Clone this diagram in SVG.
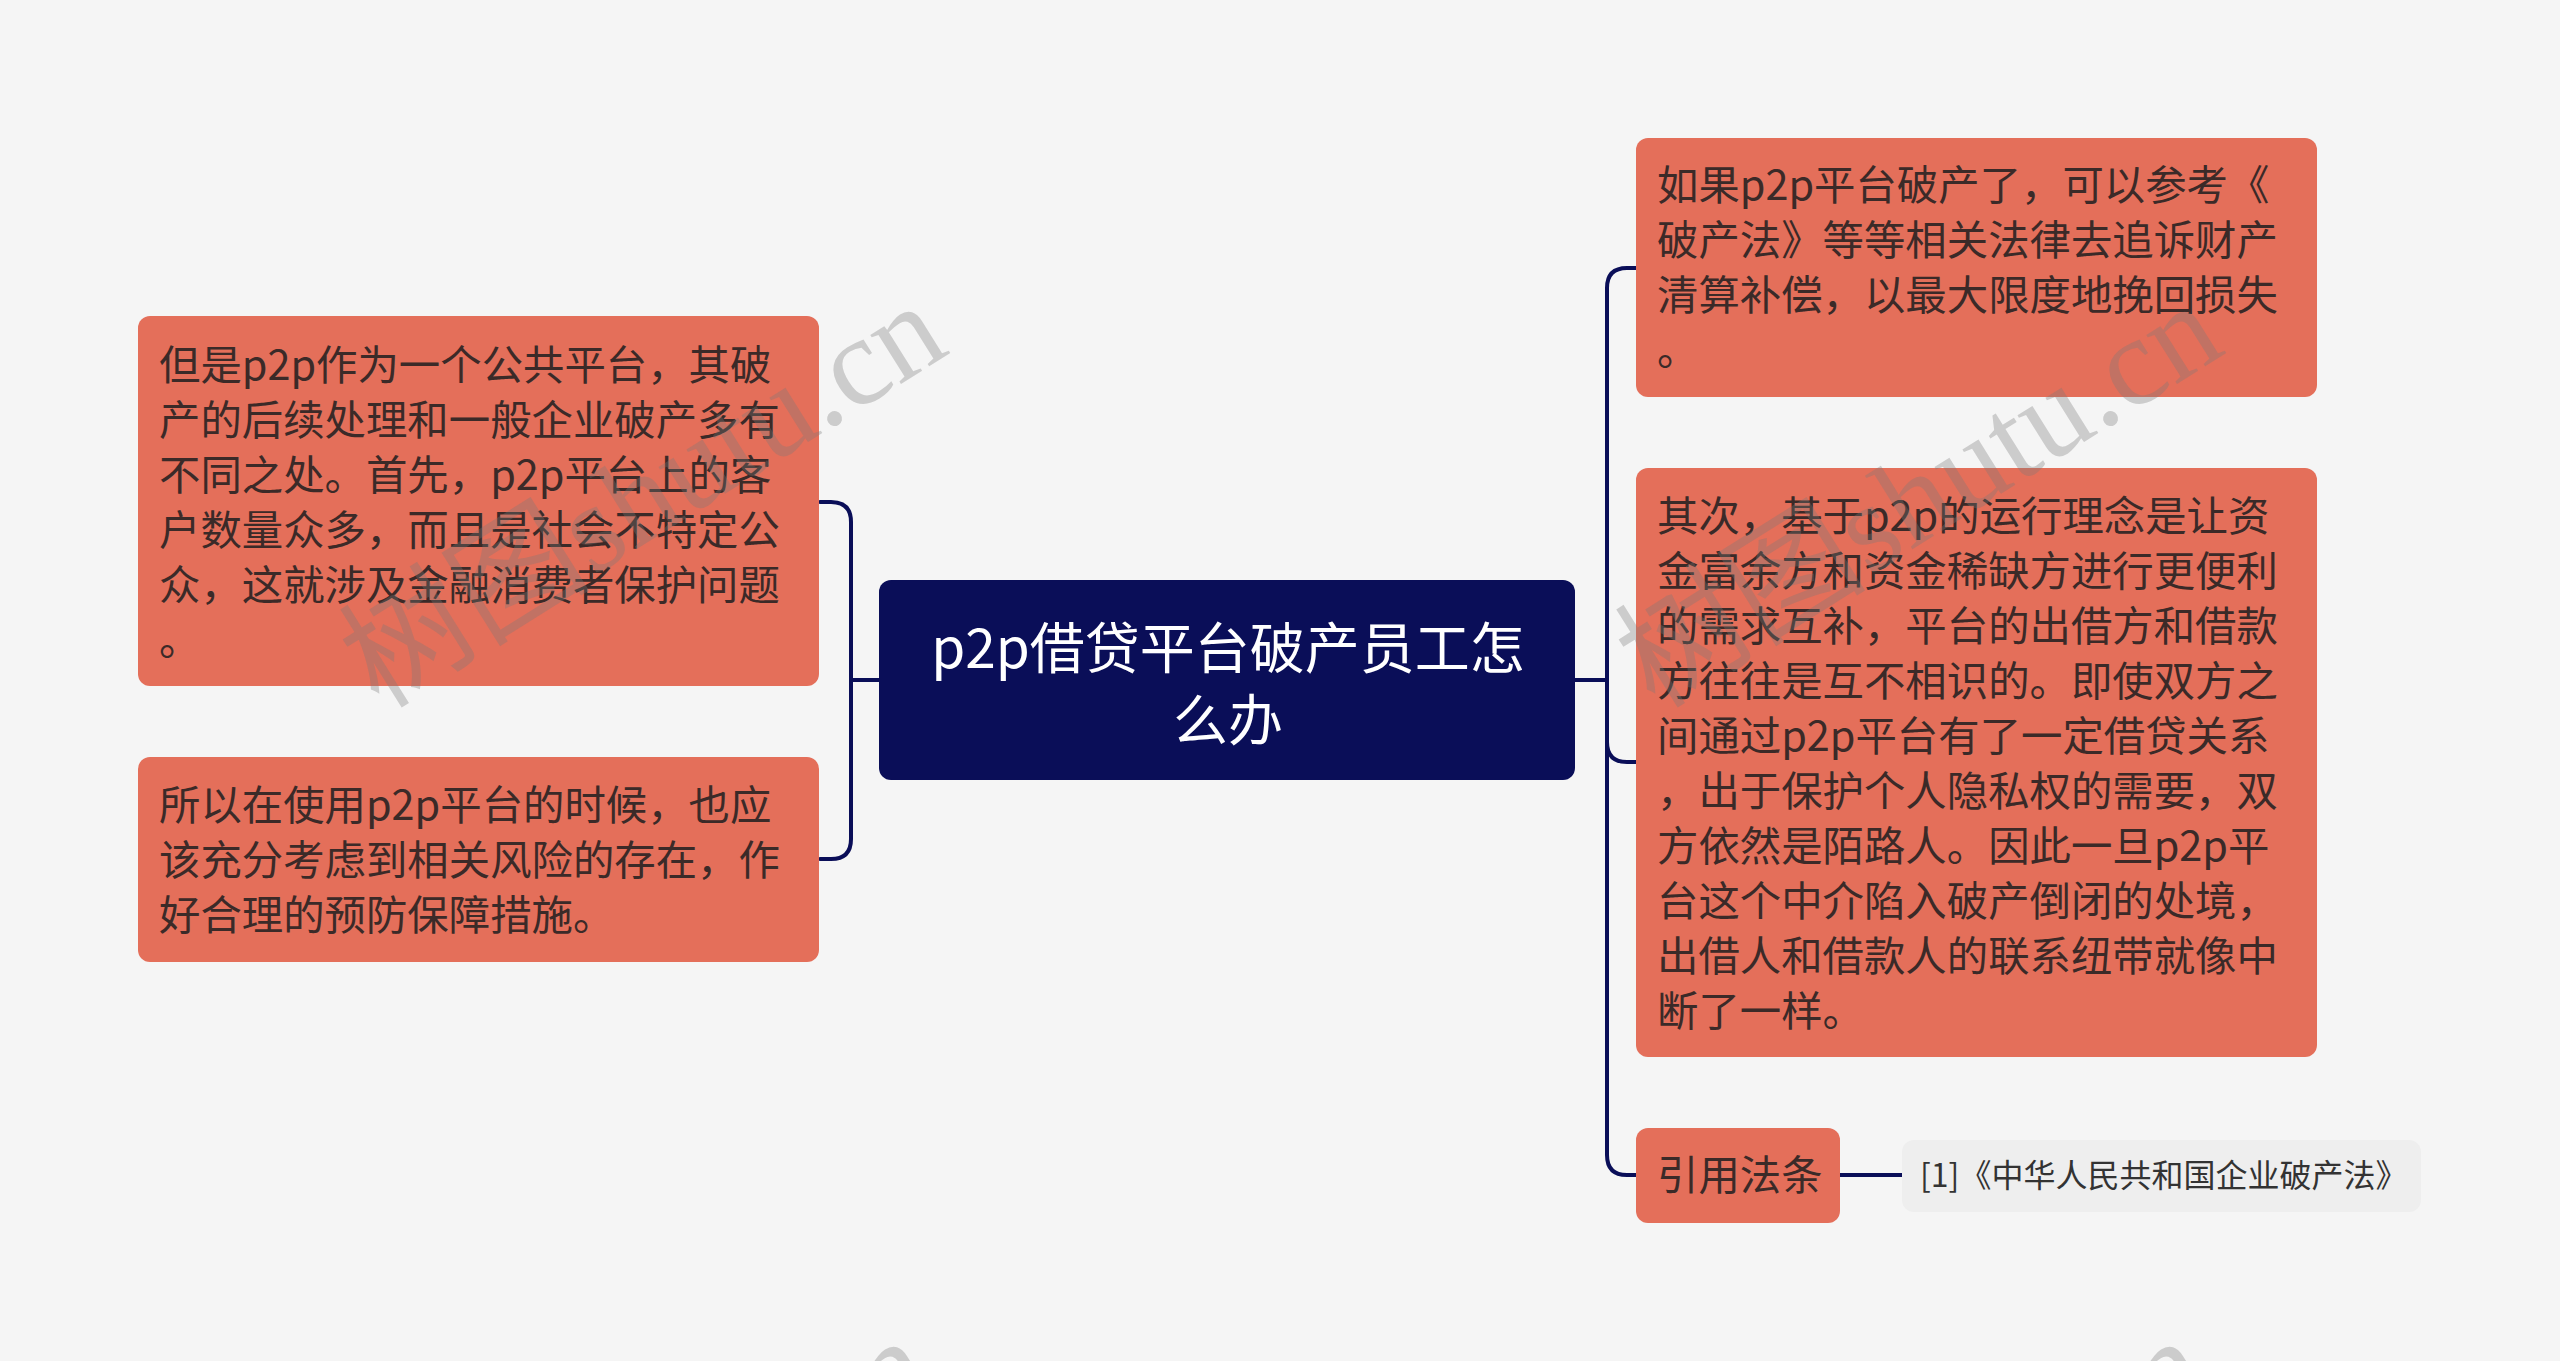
<svg xmlns="http://www.w3.org/2000/svg" width="2560" height="1361" viewBox="0 0 2560 1361">
<style>
.bg{fill:#F5F5F5}
.node{fill:#E46F5A}
.root{fill:#0A0E58}
.ref{fill:#EEEEEE}
.t{font-family:"Noto Sans CJK SC","Noto Sans",sans-serif;font-size:41.4px;fill:#3B2A28}
.tr{font-family:"Noto Sans CJK SC","Noto Sans",sans-serif;font-size:55px;fill:#FFFFFF;text-anchor:middle}
.tf{font-family:"Noto Sans CJK SC","Noto Sans",sans-serif;font-size:32px;fill:#333333}
.c{fill:none;stroke:#0A0E58;stroke-width:4;stroke-linecap:round}
.wm{font-family:"Liberation Serif","Noto Sans CJK SC",serif;font-size:126px;fill:#7A7A7A;fill-opacity:0.33}
</style>
<rect class="bg" x="0" y="0" width="2560" height="1361"/>
<g id="connectors">
<path class="c" d="M880,680 H851 V522 Q851,502 831,502 H820"/>
<path class="c" d="M880,680 H851 V839 Q851,859 831,859 H820"/>
<path class="c" d="M1575,680 H1607 V288 Q1607,268 1627,268 H1636"/>
<path class="c" d="M1575,680 H1607 V742 Q1607,762 1627,762 H1636"/>
<path class="c" d="M1575,680 H1607 V1155 Q1607,1175 1627,1175 H1636"/>
<path class="c" d="M1840,1175 H1902"/>
</g>
<g id="root">
<rect class="root" x="879" y="580" width="696" height="200" rx="12"/>
<text class="tr"><tspan x="1228" y="668">p2p借贷平台破产员工怎</tspan><tspan x="1228" y="740">么办</tspan></text>
</g>
<g id="left1">
<rect class="node" x="138" y="316" width="681" height="370" rx="12"/>
<text class="t" x="159" y="380">但是p2p作为一个公共平台，其破</text>
<text class="t" x="159" y="435">产的后续处理和一般企业破产多有</text>
<text class="t" x="159" y="490">不同之处。首先，p2p平台上的客</text>
<text class="t" x="159" y="545">户数量众多，而且是社会不特定公</text>
<text class="t" x="159" y="600">众，这就涉及金融消费者保护问题</text>
<text class="t" x="159" y="655">。</text>
</g>
<g id="left2">
<rect class="node" x="138" y="757" width="681" height="205" rx="12"/>
<text class="t" x="159" y="820">所以在使用p2p平台的时候，也应</text>
<text class="t" x="159" y="875">该充分考虑到相关风险的存在，作</text>
<text class="t" x="159" y="930">好合理的预防保障措施。</text>
</g>
<g id="right1">
<rect class="node" x="1636" y="138" width="681" height="259" rx="12"/>
<text class="t" x="1657" y="200">如果p2p平台破产了，可以参考《</text>
<text class="t" x="1657" y="255">破产法》等等相关法律去追诉财产</text>
<text class="t" x="1657" y="310">清算补偿，以最大限度地挽回损失</text>
<text class="t" x="1657" y="365">。</text>
</g>
<g id="right2">
<rect class="node" x="1636" y="468" width="681" height="589" rx="12"/>
<text class="t" x="1657" y="531">其次，基于p2p的运行理念是让资</text>
<text class="t" x="1657" y="586">金富余方和资金稀缺方进行更便利</text>
<text class="t" x="1657" y="641">的需求互补，平台的出借方和借款</text>
<text class="t" x="1657" y="696">方往往是互不相识的。即使双方之</text>
<text class="t" x="1657" y="751">间通过p2p平台有了一定借贷关系</text>
<text class="t" x="1657" y="806">，出于保护个人隐私权的需要，双</text>
<text class="t" x="1657" y="861">方依然是陌路人。因此一旦p2p平</text>
<text class="t" x="1657" y="916">台这个中介陷入破产倒闭的处境，</text>
<text class="t" x="1657" y="971">出借人和借款人的联系纽带就像中</text>
<text class="t" x="1657" y="1026">断了一样。</text>
</g>
<g id="law">
<rect class="node" x="1636" y="1128" width="204" height="95" rx="12"/>
<text class="t" x="1657" y="1190">引用法条</text>
</g>
<g id="lawref">
<rect class="ref" x="1902" y="1140" width="519" height="72" rx="12"/>
<text class="tf" x="1920" y="1187">[1]《中华人民共和国企业破产法》</text>
</g>
<g id="watermarks">
<text class="wm" transform="translate(379,710) rotate(-32)">树图shutu.cn</text>
<text class="wm" transform="translate(1655,710) rotate(-32)">树图shutu.cn</text>
<text class="wm" transform="translate(364,1745) rotate(-32)">树图shutu.cn</text>
<text class="wm" transform="translate(1640,1745) rotate(-32)">树图shutu.cn</text>
</g>
</svg>
